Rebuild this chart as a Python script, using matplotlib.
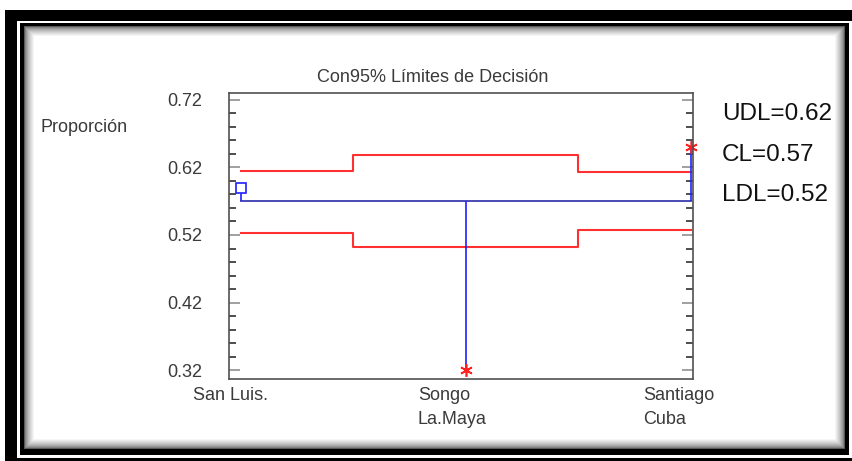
import matplotlib.pyplot as plt
from matplotlib.patches import Rectangle
from matplotlib.ticker import MultipleLocator

plt.rcParams['font.family'] = ['Liberation Sans', 'DejaVu Sans']

# ANOM de proporciones por municipio
municipios = ["San Luis.", "Songo\nLa.Maya", "Santiago\nCuba"]
proporcion = [0.590, 0.321, 0.650]
udl = [0.615, 0.638, 0.613]
ldl = [0.523, 0.502, 0.527]
cl = 0.57
resumen = ["UDL=0.62", "CL=0.57", "LDL=0.52"]

W, H = 852, 461
fig = plt.figure(figsize=(W / 100, H / 100), dpi=100)

# marco doble con sombra interior
fr = fig.add_axes([0, 0, 1, 1], zorder=-5)
fr.set_xlim(0, W)
fr.set_ylim(H, 0)
fr.axis('off')
fr.add_patch(Rectangle((5, 10), W, H, color='black', lw=0))
fr.add_patch(Rectangle((17, 21), W, 458 - 21, color='white', lw=0))
fr.add_patch(Rectangle((20, 23), 849 - 20, 455 - 23, color='black', lw=0))
x0, y0, x1, y1 = 24, 26, 845, 449
steps = 10
for k in range(steps + 1):
    g = min(1.0, 0.35 + 0.65 * (k / steps) ** 0.6)
    fr.add_patch(Rectangle((x0 + k, y0 + k), (x1 - x0) - 2 * k, (y1 - y0) - 2 * k,
                           color=(g, g, g), lw=0))

ax = fig.add_axes([229 / W, 1 - 379 / H, 464 / W, 286 / H])
x = [1, 2, 3]

ax.step(x, udl, where='mid', color='#ff3030', lw=1.5)
ax.step(x, ldl, where='mid', color='#ff3030', lw=1.5)
ax.plot([x[0], x[-1]], [cl, cl], color='#3c3cb0', lw=1.3)
ax.vlines(x, cl, proporcion, color='#2020ff', lw=1.2)

fuera = [p > u or p < l for p, u, l in zip(proporcion, udl, ldl)]
for xi, p, f in zip(x, proporcion, fuera):
    if f:
        ax.plot(xi, p, marker=(6, 2, 0), color='#ff2020', ms=9, mew=1.2, clip_on=False)
    else:
        ax.plot(xi, p, marker='s', mfc='white', mec='#2020ff', ms=7, mew=1.2, clip_on=False)

ax.set_xlim(0.947, 3.009)
ax.set_ylim(0.307, 0.730)
ax.set_yticks([0.32, 0.42, 0.52, 0.62, 0.72])
ax.set_yticklabels(["0.32", "0.42", "0.52", "0.62", "0.72"])
ax.yaxis.set_minor_locator(MultipleLocator(0.02))
ax.tick_params(axis='y', which='both', direction='in', left=True, right=True,
               labelsize=13, labelcolor='#3a3a3a', pad=19)
ax.tick_params(axis='y', which='major', length=8, width=1.2, color='#909090')
ax.tick_params(axis='y', which='minor', length=5, width=1.2, color='#303030')
ax.set_xticks([])
for s in ax.spines.values():
    s.set_color('#505050')
    s.set_linewidth(1.2)

for xi, lab in zip(x, municipios):
    ax.annotate(lab, xy=(xi, 0.307), xytext=(-48, -8), textcoords='offset pixels',
                ha='left', va='top', fontsize=13, color='#3a3a3a', linespacing=1.55,
                annotation_clip=False)

fig.text(433 / W, 1 - 78 / H, "Con95% Límites de Decisión", ha='center', va='center',
         fontsize=13, color='#3a3a3a')
fig.text(41 / W, 1 - 128 / H, "Proporción", ha='left', va='center',
         fontsize=13, color='#3a3a3a')
for t, yy in zip(resumen, [114, 155, 195]):
    fig.text(722 / W, 1 - yy / H, t, ha='left', va='center', fontsize=17.5, color='#111111')

fig.savefig('out.png', dpi=100)
